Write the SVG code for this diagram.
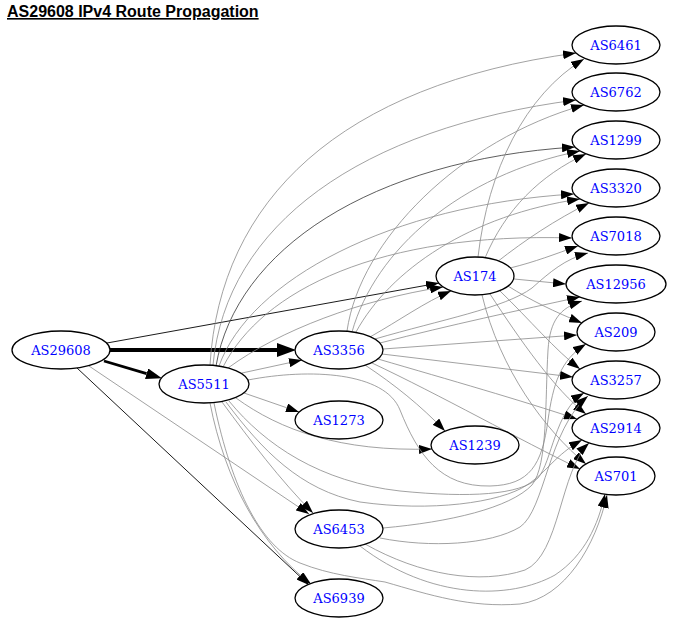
<svg xmlns="http://www.w3.org/2000/svg" width="675" height="633" viewBox="0 0 675 633">
<style>
.e{fill:none;stroke:#8a8a8a;stroke-width:0.8;marker-end:url(#ah)}
.k{fill:none;stroke:#000;stroke-width:0.9;marker-end:url(#ah)}
.n ellipse{fill:#fff;stroke:#000;stroke-width:1.3}
.n text{font-family:"DejaVu Serif",serif;font-size:13px;fill:#0000ff;text-anchor:middle}
.t{font-family:"Liberation Sans",Arial,sans-serif;font-size:16px;font-weight:bold;text-decoration:underline}
</style>
<defs>
<marker id="ah" viewBox="0 0 13 9" refX="13" refY="4.5" markerWidth="13" markerHeight="9" markerUnits="userSpaceOnUse" orient="auto"><path d="M0,0L13,4.5L0,9Z" fill="#000"/></marker>
<marker id="ah4" viewBox="0 0 19 14" refX="0" refY="7" markerWidth="19" markerHeight="14" markerUnits="userSpaceOnUse" orient="auto"><path d="M0,0L19,7L0,14Z" fill="#000"/></marker>
<marker id="ah3" viewBox="0 0 16 11" refX="0" refY="5.5" markerWidth="16" markerHeight="11" markerUnits="userSpaceOnUse" orient="auto"><path d="M0,0L16,5.5L0,11Z" fill="#000"/></marker>
</defs>
<rect width="675" height="633" fill="#fff"/>
<text class="t" x="7" y="17">AS29608 IPv4 Route Propagation</text>
<g id="edges">
<!-- AS29608 -->
<path d="M110,350L277,350" fill="none" stroke="#000" stroke-width="4" marker-end="url(#ah4)"/>
<path d="M104,361L146.6,373.7" fill="none" stroke="#000" stroke-width="2.8" marker-end="url(#ah3)"/>
<path class="k" d="M107,343L439,283"/>
<path class="e" d="M89,366L309,514"/>
<path class="k" d="M77,368L309,585"/>
<!-- AS5511 -->
<path class="e" d="M210,365C220,200 340,85 576,53"/>
<path class="e" d="M213,365C226,225 360,128 576,100"/>
<path class="k" d="M216,366C236,250 370,160 575,147" style="stroke:#333;stroke-width:0.8"/>
<path class="e" d="M219,366C250,280 390,205 574,194"/>
<path class="e" d="M223,367C262,290 380,232 572,238"/>
<path class="e" d="M228,368C280,330 360,300 443,287"/>
<path class="e" d="M242,373L302,360"/>
<path class="e" d="M244,393L299,412"/>
<path class="e" d="M236,398C280,430 340,452 432,449"/>
<path class="e" d="M248,380C310,368 385,372 400,410C418,455 440,487 490,486C530,485 542,465 548,420C553,385 560,360 586,344"/>
<path class="e" d="M229,401C265,445 320,482 400,491C470,498 520,495 538,478C552,462 555,410 584,393"/>
<path class="e" d="M226,402C262,450 300,490 360,502C430,512 500,503 527,485C547,472 555,455 582,440"/>
<path class="e" d="M222,402C250,440 280,480 313,513"/>
<path class="e" d="M210,403C225,480 260,545 311,584"/>
<path class="e" d="M214,403C232,490 262,548 300,563C330,575 360,578 385,582C430,595 470,608 520,604C565,598 596,545 607,495"/>
<!-- AS3356 -->
<path class="e" d="M347,331C360,240 460,140 584,105"/>
<path class="e" d="M352,332C375,250 460,175 580,151"/>
<path class="e" d="M356,332C390,270 470,215 580,199"/>
<path class="e" d="M375,339C440,320 505,308 532,288C550,272 565,259 588,253"/>
<path class="e" d="M370,337C400,320 425,302 451,291"/>
<path class="e" d="M380,343C450,325 520,310 580,297"/>
<path class="e" d="M383,349L577,335"/>
<path class="e" d="M382,354L573,377"/>
<path class="e" d="M378,359C450,380 520,400 577,419"/>
<path class="e" d="M372,363C440,395 520,440 580,469"/>
<path class="e" d="M365,365C395,385 420,405 445,431"/>
<!-- AS174 -->
<path class="e" d="M478,257C488,170 525,95 584,59"/>
<path class="e" d="M485,258C505,210 540,175 586,154"/>
<path class="e" d="M497,262C525,240 555,220 589,203"/>
<path class="e" d="M510,268C535,262 555,254 578,246"/>
<path class="e" d="M514,279L566,284"/>
<path class="e" d="M508,286C530,300 555,312 582,323"/>
<path class="e" d="M500,291C530,320 555,350 580,369"/>
<path class="e" d="M490,294C520,340 555,390 586,414"/>
<path class="e" d="M482,295C500,370 545,430 586,464"/>
<!-- AS6453 -->
<path class="e" d="M383,528C450,522 510,508 532,485C548,465 545,400 548,350C550,320 560,308 582,301"/>
<path class="e" d="M380,538C430,548 490,545 520,527C545,510 548,430 588,396"/>
<path class="e" d="M365,544C420,575 480,585 525,570C560,555 560,470 589,443"/>
<path class="e" d="M360,546C430,600 510,600 555,575C585,555 598,525 605,494"/>
</g>
<g id="AS29608" class="n"><ellipse cx="61" cy="350" rx="49" ry="19"/><text x="61" y="354.5">AS29608</text></g>
<g id="AS5511" class="n"><ellipse cx="204" cy="384" rx="45" ry="19"/><text x="204" y="388.5">AS5511</text></g>
<g id="AS3356" class="n"><ellipse cx="339" cy="350" rx="44" ry="19"/><text x="339" y="354.5">AS3356</text></g>
<g id="AS174" class="n"><ellipse cx="475" cy="276" rx="39" ry="19"/><text x="475" y="280.5">AS174</text></g>
<g id="AS1273" class="n"><ellipse cx="339" cy="420" rx="44" ry="19"/><text x="339" y="424.5">AS1273</text></g>
<g id="AS1239" class="n"><ellipse cx="475" cy="445" rx="44" ry="19"/><text x="475" y="449.5">AS1239</text></g>
<g id="AS6453" class="n"><ellipse cx="339" cy="529" rx="44" ry="19"/><text x="339" y="533.5">AS6453</text></g>
<g id="AS6939" class="n"><ellipse cx="339" cy="598" rx="44" ry="19"/><text x="339" y="602.5">AS6939</text></g>
<g id="AS6461" class="n"><ellipse cx="616" cy="45" rx="44" ry="19"/><text x="616" y="49.5">AS6461</text></g>
<g id="AS6762" class="n"><ellipse cx="616" cy="92" rx="44" ry="19"/><text x="616" y="96.5">AS6762</text></g>
<g id="AS1299" class="n"><ellipse cx="616" cy="140" rx="44" ry="19"/><text x="616" y="144.5">AS1299</text></g>
<g id="AS3320" class="n"><ellipse cx="616" cy="188" rx="44" ry="19"/><text x="616" y="192.5">AS3320</text></g>
<g id="AS7018" class="n"><ellipse cx="616" cy="236" rx="44" ry="19"/><text x="616" y="240.5">AS7018</text></g>
<g id="AS12956" class="n"><ellipse cx="616" cy="284" rx="50" ry="19"/><text x="616" y="288.5">AS12956</text></g>
<g id="AS209" class="n"><ellipse cx="616" cy="332" rx="39" ry="19"/><text x="616" y="336.5">AS209</text></g>
<g id="AS3257" class="n"><ellipse cx="616" cy="380" rx="44" ry="19"/><text x="616" y="384.5">AS3257</text></g>
<g id="AS2914" class="n"><ellipse cx="616" cy="428" rx="44" ry="19"/><text x="616" y="432.5">AS2914</text></g>
<g id="AS701" class="n"><ellipse cx="616" cy="476" rx="39" ry="19"/><text x="616" y="480.5">AS701</text></g>
</svg>
